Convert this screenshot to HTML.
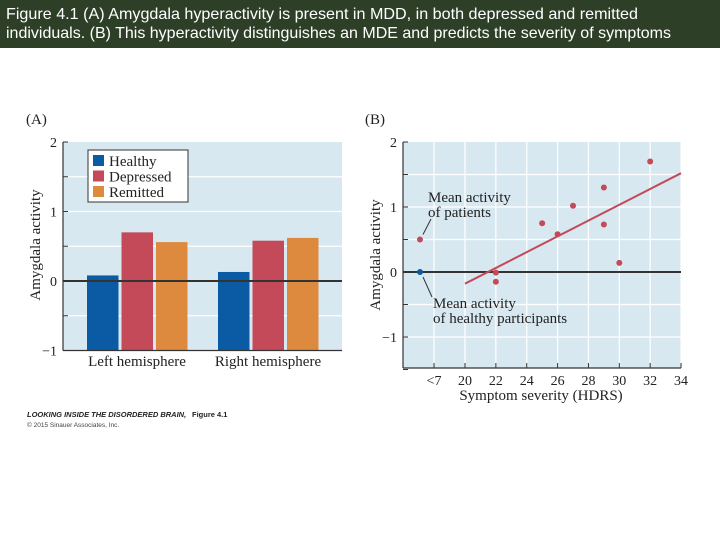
<!DOCTYPE html>
<html><head><meta charset="utf-8"><style>
body{margin:0;width:720px;height:540px;background:#fff;overflow:hidden;font-family:"Liberation Sans",sans-serif}
svg{position:absolute;left:0;top:0}
.s{font-family:"Liberation Serif",serif;fill:#222}
</style></head><body>
<svg width="720" height="540" id="svg">
<rect x="0" y="0" width="720" height="48" fill="#2e3f28"/>
<text x="6" y="19" font-size="16" fill="#fff" textLength="632" lengthAdjust="spacingAndGlyphs" font-family="Liberation Sans, sans-serif">Figure 4.1  (A) Amygdala hyperactivity is present in MDD, in both depressed and remitted</text>
<text x="6" y="38" font-size="16" fill="#fff" textLength="665" lengthAdjust="spacingAndGlyphs" font-family="Liberation Sans, sans-serif">individuals. (B) This hyperactivity distinguishes an MDE and predicts the severity of symptoms</text>
</svg>
<script>
const groups=["Left hemisphere","Right hemisphere"];
const seriesNames=["Healthy","Depressed","Remitted"];
const healthy=[0.08,0.13];
const depressed=[0.70,0.58];
const remitted=[0.56,0.62];
const yTicksA=[2,1,0,-1];
const scatterX=[22,22,25,26,27,29,29,30,32];
const scatterY=[-0.01,-0.15,0.75,0.58,1.02,1.30,0.73,0.14,1.70];
const fitLine=[[20,-0.18],[34,1.52]];
const patientMean=[0.5];
const healthyMean=[0];
const xTicksB=[20,22,24,26,28,30,32,34];
const yTicksB=[2,1,0,-1];
const colors=["#0a5ba3","#c44a59","#dd8a3e"];
const NS="http://www.w3.org/2000/svg";
const svg=document.getElementById('svg');
function el(t,a,txt){const e=document.createElementNS(NS,t);for(const k in a)e.setAttribute(k,a[k]);if(txt!==undefined)e.textContent=txt;svg.appendChild(e);return e;}
// Panel A
const yA=v=>281-v*69.5;
let r=el('rect',{x:63,y:yA(2),width:279,height:yA(-1)-yA(2),fill:"#d8e8f1"});

for(let v=-0.5;v<2;v+=0.5){if(v===0)continue;let g=el('line',{x1:63,x2:342,y1:yA(v),y2:yA(v),stroke:"#fff","stroke-width":1.2});}
const series=[healthy,depressed,remitted];
const groupX=[87,218];
groups.forEach((gname,gi)=>{series.forEach((s,si)=>{const x=groupX[gi]+si*34.5;const y0=yA(-1),y1=yA(s[gi]);
let b=el('rect',{x:x,y:y1,width:31.5,height:y0-y1,fill:colors[si]});

});
let t=el('text',{x:groupX[gi]+50,y:366,"text-anchor":"middle","font-size":15,class:"s"},gname);
});
el('line',{x1:63,x2:342,y1:yA(0),y2:yA(0),stroke:"#333","stroke-width":2});
el('line',{x1:63,x2:63,y1:yA(2),y2:yA(-1),stroke:"#333","stroke-width":1.2});
el('line',{x1:63,x2:342,y1:yA(-1),y2:yA(-1),stroke:"#333","stroke-width":1.2});
for(let v=-1;v<=2;v+=0.5)el('line',{x1:63,x2:68,y1:yA(v),y2:yA(v),stroke:"#333"});
yTicksA.forEach(v=>{let t=el('text',{x:57,y:yA(v)+5,"text-anchor":"end","font-size":14,class:"s"},v<0?"\u2212"+(-v):v);});
let ta=el('text',{x:0,y:0,transform:"translate(40,245) rotate(-90)","text-anchor":"middle","font-size":15,class:"s"},"Amygdala activity");
let pa=el('text',{x:26,y:124,"font-size":15,class:"s"},"(A)");
let lg=el('rect',{x:88,y:150,width:100,height:52,fill:"#fff",stroke:"#333","stroke-width":1});
seriesNames.forEach((n,i)=>{el('rect',{x:93,y:155+i*15.5,width:11,height:11,fill:colors[i]});let t=el('text',{x:109,y:166+i*15.5,"font-size":15,class:"s"},n);});
// Panel B
const yB=v=>272-v*65;
const xB=v=>465+(v-20)*15.43;
const xOut=420;
let r2=el('rect',{x:403,y:yB(2),width:278,height:368-yB(2),fill:"#d8e8f1"});
for(let v=-1.5;v<2;v+=0.5){if(v===0)continue;el('line',{x1:403,x2:681,y1:yB(v),y2:yB(v),stroke:"#fff","stroke-width":1.2});}
[434].concat(xTicksB.map(xB)).forEach(x=>el('line',{x1:x,x2:x,y1:yB(2),y2:368,stroke:"#fff","stroke-width":1.2}));
el('line',{x1:403,x2:681,y1:yB(0),y2:yB(0),stroke:"#333","stroke-width":2});
el('line',{x1:403,x2:403,y1:yB(2),y2:368,stroke:"#333","stroke-width":1.2});
el('line',{x1:403,x2:681,y1:368,y2:368,stroke:"#333","stroke-width":1.2});
for(let v=-1.5;v<=2;v+=0.5)el('line',{x1:403,x2:408,y1:yB(v),y2:yB(v),stroke:"#333"});
[434].concat(xTicksB.map(xB)).forEach(x=>el('line',{x1:x,x2:x,y1:363,y2:368,stroke:"#333"}));
yTicksB.forEach(v=>{let t=el('text',{x:397,y:yB(v)+5,"text-anchor":"end","font-size":14,class:"s"},v<0?"\u2212"+(-v):v);});
let t7=el('text',{x:434,y:385,"text-anchor":"middle","font-size":14,class:"s"},"<7");
xTicksB.forEach(v=>{let t=el('text',{x:xB(v),y:385,"text-anchor":"middle","font-size":14,class:"s"},v);});
let xt=el('text',{x:541,y:400,"text-anchor":"middle","font-size":15,class:"s"},"Symptom severity (HDRS)");
let yt=el('text',{x:0,y:0,transform:"translate(380,255) rotate(-90)","text-anchor":"middle","font-size":15,class:"s"},"Amygdala activity");
let pb=el('text',{x:365,y:124,"font-size":15,class:"s"},"(B)");
let fl=el('line',{x1:xB(fitLine[0][0]),y1:yB(fitLine[0][1]),x2:xB(fitLine[1][0]),y2:yB(fitLine[1][1]),stroke:"#c44a59","stroke-width":2});
scatterX.forEach((x,i)=>{let c=el('circle',{cx:xB(x),cy:yB(scatterY[i]),r:3,fill:"#c44a59"});});
let pm=el('circle',{cx:xOut,cy:yB(patientMean[0]),r:3,fill:"#c44a59"});
let hm=el('circle',{cx:xOut,cy:yB(healthyMean[0]),r:3,fill:"#0a5ba3"});
el('line',{x1:423,y1:yB(patientMean[0])-5,x2:431,y2:219,stroke:"#333"});
el('line',{x1:423,y1:yB(0)+5,x2:432,y2:297,stroke:"#333"});
let a1=el('text',{x:428,y:202,"font-size":15,class:"s"},"Mean activity");
el('text',{x:428,y:217,"font-size":15,class:"s"},"of patients");
let a2=el('text',{x:433,y:308,"font-size":15,class:"s"},"Mean activity");
el('text',{x:433,y:323,"font-size":15,class:"s"},"of healthy participants");
let c1=el('text',{x:27,y:417,"font-size":7.5,"font-weight":"bold","font-style":"italic",fill:"#222"},"LOOKING INSIDE THE DISORDERED BRAIN,");
el('text',{x:192,y:417,"font-size":7.5,"font-weight":"bold",fill:"#222"},"Figure 4.1");
el('text',{x:27,y:427,"font-size":6.5,fill:"#444"},"© 2015 Sinauer Associates, Inc.");
</script>
</body></html>
